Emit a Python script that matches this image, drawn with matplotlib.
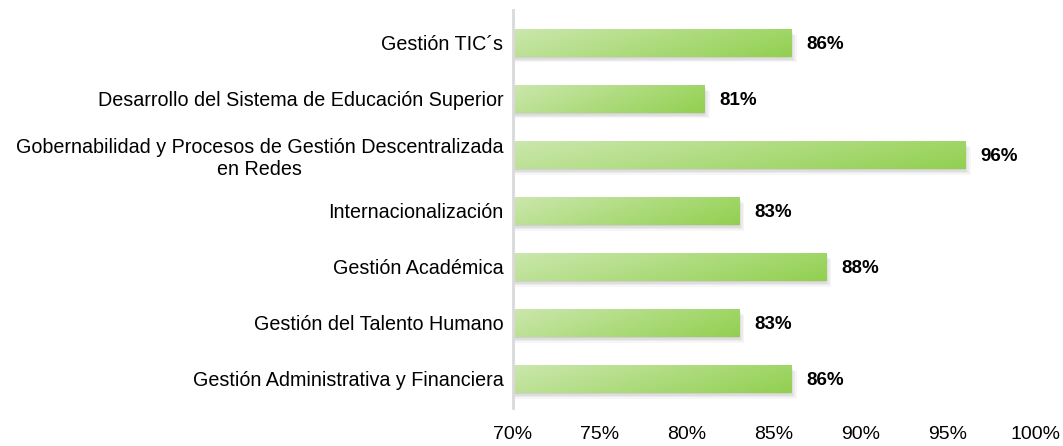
import numpy as np
import matplotlib
matplotlib.use('Agg')
import matplotlib.pyplot as plt
from matplotlib.colors import LinearSegmentedColormap
from matplotlib.patches import Rectangle

plt.rcParams['font.family'] = ['Liberation Sans', 'DejaVu Sans']

categories = ["Gestión TIC´s",
              "Desarrollo del Sistema de Educación Superior",
              "Gobernabilidad y Procesos de Gestión Descentralizada\nen Redes",
              "Internacionalización",
              "Gestión Académica",
              "Gestión del Talento Humano",
              "Gestión Administrativa y Financiera"]
values = [86, 81, 96, 83, 88, 83, 86]
ticks = [70, 75, 80, 85, 90, 95, 100]

fig = plt.figure(figsize=(10.63, 4.46), dpi=100)
ax = fig.add_axes([0.4826, 0.085, 0.4911, 0.893])

cmap = LinearSegmentedColormap.from_list('g', ['#cbe7ad', '#92d050'])
gx, gy = np.meshgrid(np.linspace(0, 1, 200), np.linspace(0, 1, 20))
grad = 0.75 * gx + 0.25 * gy

h = 0.49
ypos = np.arange(len(values))
for y, v in zip(ypos, values):
    # soft shadow under the bar
    for k, a in enumerate([0.11, 0.09, 0.07, 0.05]):
        off = 0.03 + 0.025 * k
        ax.add_patch(Rectangle((70, y - h / 2 + off), v - 70 + 0.1 * k, h,
                               facecolor='#606060', edgecolor='none', alpha=a, zorder=1))
    rect = Rectangle((70, y - h / 2), v - 70, h, facecolor='none', edgecolor='none', zorder=3)
    ax.add_patch(rect)
    im = ax.imshow(grad, cmap=cmap, aspect='auto', extent=(70, v, y + h / 2, y - h / 2),
                   zorder=2, interpolation='bilinear')
    im.set_clip_path(rect)
    ax.text(v + 0.85, y + 0.03, f"{v}%", va='center', ha='left', fontsize=13.5, fontweight='bold')

ax.set_xlim(70, 100)
ax.set_ylim(len(values) - 1 + 0.52, -0.59)
ax.set_yticks(ypos)
ax.set_yticklabels(categories, fontsize=14.2, ha='right', multialignment='center')
ax.set_xticks(ticks)
ax.set_xticklabels([f"{t}%" for t in ticks], fontsize=14)
ax.tick_params(axis='x', length=0, pad=13)
ax.tick_params(axis='y', length=0, pad=7)
for s in ['top', 'right', 'bottom']:
    ax.spines[s].set_visible(False)
ax.spines['left'].set_color('#d9d9d9')
ax.spines['left'].set_linewidth(2)

fig.savefig('out.png', dpi=100)
